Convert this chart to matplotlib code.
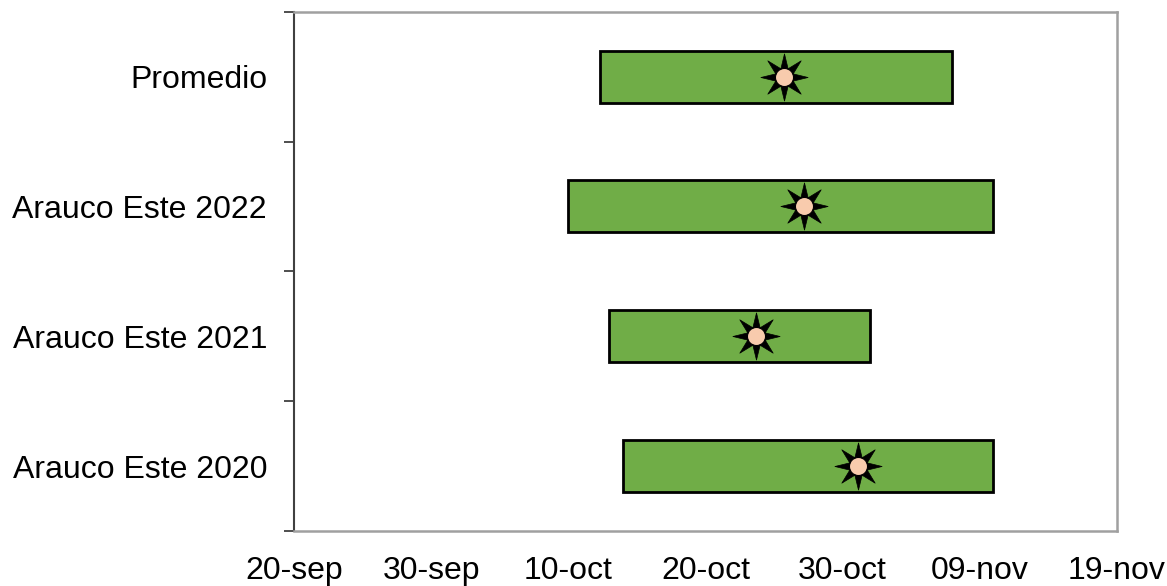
import numpy as np
import matplotlib.pyplot as plt
from matplotlib.path import Path

plt.rcParams['font.family'] = ['Liberation Sans', 'DejaVu Sans']

# Categorías (de abajo hacia arriba)
categorias = ['Arauco Este 2020', 'Arauco Este 2021', 'Arauco Este 2022', 'Promedio']

# Días contados desde el 20-sep
inicio = [24.0, 23.0, 20.0, 22.3]
fin = [51.0, 42.0, 51.0, 48.0]
fecha_media = [41.1, 33.7, 37.2, 35.7]

x_ticks = [0, 10, 20, 30, 40, 50, 60]
x_labels = ['20-sep', '30-sep', '10-oct', '20-oct', '30-oct', '09-nov', '19-nov']

fig = plt.figure(figsize=(11.67, 5.86), dpi=100)
ax = fig.add_axes([0.252, 0.094, 0.705, 0.886])

y = np.arange(len(categorias))
ax.barh(y, np.array(fin) - np.array(inicio), left=inicio, height=0.40,
        color='#70AD47', edgecolor='black', linewidth=2, zorder=2)

star = Path.unit_regular_star(8, 0.4)
ax.plot(fecha_media, y, linestyle='none', marker=star, markersize=34,
        markerfacecolor='black', markeredgecolor='black', markeredgewidth=0.5, zorder=3)
ax.plot(fecha_media, y, linestyle='none', marker='o', markersize=13,
        markerfacecolor='#F8CBAD', markeredgecolor='black', markeredgewidth=0.8, zorder=4)

ax.set_xlim(0, 60)
ax.set_ylim(-0.5, 3.5)
ax.set_xticks(x_ticks)
ax.set_xticklabels(x_labels, fontsize=23)
ax.set_yticks(y)
ax.set_yticklabels(categorias, fontsize=23)
ax.set_yticks(np.arange(-0.5, 4.0, 1.0), minor=True)

ax.tick_params(axis='x', length=0, pad=18)
ax.tick_params(axis='y', which='major', length=0, pad=19.5)
ax.tick_params(axis='y', which='minor', length=7, width=1.3, color='#404040')

for s in ['top', 'right', 'bottom']:
    ax.spines[s].set_color('#A0A0A0')
    ax.spines[s].set_linewidth(1.8)
ax.spines['left'].set_color('#404040')
ax.spines['left'].set_linewidth(1.5)

fig.savefig('out.png', dpi=100)
